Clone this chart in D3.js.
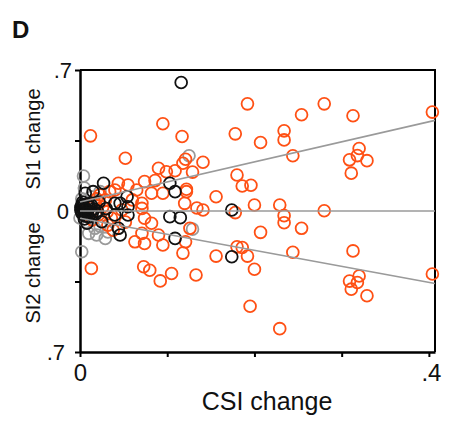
<!DOCTYPE html>
<html>
<head>
<meta charset="utf-8">
<script src="https://cdn.jsdelivr.net/npm/d3@7"></script>
<style>
  html, body { margin: 0; padding: 0; background: #fff; }
  svg { display: block; font-family: "Liberation Sans", Arial, sans-serif; }
</style>
</head>
<body>
<svg id="chart" width="449" height="424"></svg>
<script>
// CSI change (x) against SI1 change (positive y) / SI2 change (negative y)
const orangePoints = [
  [0.012, 0.373], [0.095, 0.433], [0.117, 0.370], [0.192, 0.532], [0.280, 0.532],
  [0.254, 0.478], [0.313, 0.473], [0.404, 0.491], [0.178, 0.383], [0.234, 0.398],
  [0.234, 0.353], [0.207, 0.340], [0.244, 0.274], [0.320, 0.310], [0.318, 0.275],
  [0.309, 0.254], [0.329, 0.250], [0.311, 0.188], [0.141, 0.242], [0.129, 0.193],
  [0.121, 0.257], [0.180, 0.179], [0.186, 0.124], [0.196, 0.128], [0.156, 0.071],
  [0.122, 0.108], [0.200, 0.030], [0.229, 0.030], [0.280, 0.001], [0.134, 0.015],
  [0.141, 0.005], [0.178, -0.008], [0.234, -0.023], [0.234, -0.058], [0.254, -0.086],
  [0.207, -0.106], [0.126, -0.086], [0.121, -0.153], [0.118, -0.209], [0.180, -0.178],
  [0.186, -0.181], [0.192, -0.224], [0.156, -0.224], [0.244, -0.205], [0.313, -0.198],
  [0.200, -0.289], [0.133, -0.318], [0.320, -0.323], [0.309, -0.348], [0.318, -0.355],
  [0.311, -0.388], [0.329, -0.421], [0.404, -0.313], [0.195, -0.473], [0.229, -0.584],
  [0.052, 0.262], [0.090, 0.212], [0.099, 0.195], [0.109, 0.200], [0.118, 0.237],
  [0.074, 0.146], [0.086, 0.151], [0.044, 0.138], [0.034, 0.096], [0.082, 0.088],
  [0.095, 0.088], [0.071, 0.038], [0.029, 0.055], [0.017, 0.040], [0.071, 0.013],
  [0.074, -0.036], [0.082, -0.061], [0.071, -0.111], [0.090, -0.119], [0.063, -0.153],
  [0.074, -0.161], [0.095, -0.169], [0.013, -0.285], [0.073, -0.277], [0.080, -0.294],
  [0.092, -0.347], [0.105, -0.310], [0.032, -0.070], [0.031, -0.005], [0.023, 0.080],
  [0.040, 0.104], [0.048, 0.005], [0.021, -0.020], [0.038, -0.095], [0.052, -0.055],
  [0.060, 0.055], [0.009, 0.030], [0.014, -0.045], [0.055, 0.129], [0.065, 0.104],
  [0.120, 0.038], [0.122, 0.096], [0.026, 0.020], [0.036, -0.035], [0.019, 0.060]
];

const blackPoints = [
  [0.116, 0.638], [0.027, 0.138], [0.015, 0.096], [0.006, 0.088], [0.103, 0.138],
  [0.109, 0.096], [0.054, 0.071], [0.040, 0.038], [0.046, 0.038], [0.055, 0.021],
  [0.040, -0.020], [0.055, -0.020], [0.008, -0.061], [0.025, -0.053], [0.044, -0.086],
  [0.046, -0.119], [0.103, -0.028], [0.115, -0.033], [0.109, -0.136], [0.174, 0.005],
  [0.174, -0.227], [0.002, 0.030], [0.005, 0.015], [0.007, 0.000], [0.003, -0.015],
  [0.009, 0.005], [0.011, 0.020], [0.006, -0.025], [0.014, -0.010], [0.001, 0.005],
  [0.008, 0.035], [0.016, 0.010], [0.018, -0.015], [0.010, -0.030], [0.003, 0.045],
  [0.004, 0.002], [0.006, 0.010], [0.002, -0.008], [0.012, -0.004], [0.004, 0.024],
  [0.013, 0.028], [0.005, -0.040], [0.020, 0.000], [0.001, 0.018], [0.008, -0.012],
  [0.022, 0.045], [0.030, 0.012]
];

const grayPoints = [
  [0.004, 0.174], [0.125, 0.274], [0.002, -0.202], [0.010, -0.111], [0.019, -0.119],
  [0.029, -0.136], [0.017, -0.086], [0.023, 0.096], [0.129, -0.090], [0.002, 0.060],
  [0.007, -0.055], [0.013, 0.070], [0.000, -0.035], [0.032, -0.104], [0.005, 0.114],
  [0.023, -0.075]
];

// fitted lines: [intercept, value at right edge]
const fitLines = [
  [0.045, 0.450],
  [0.000, 0.000],
  [-0.036, -0.360]
];

const xTickValues = [0, 0.1, 0.2, 0.3, 0.4];
const xTickLabels = ["0", "", "", "", ".4"];
const yTickValues = [-0.7, -0.35, 0, 0.35, 0.7];

const xMax = 0.407;
const svg = d3.select("#chart");
const x = d3.scaleLinear().domain([0, xMax]).range([80, 435]);
const y = d3.scaleLinear().domain([-0.7, 0.7]).range([352, 70]);

const orange = "#ff5014";
const black = "#111";
const gray = "#9a9a9a";

// frame (top and right edges)
svg.append("path")
  .attr("d", `M${x(0)},${y(0.7)}H${x(xMax)}V${y(-0.7)}`)
  .attr("fill", "none").attr("stroke", "#000").attr("stroke-width", 2);

// axes
const xAxis = svg.append("g")
  .attr("transform", `translate(0,${y(-0.7)})`)
  .call(d3.axisBottom(x).tickValues(xTickValues).tickSize(5).tickSizeOuter(0)
    .tickFormat((d, i) => xTickLabels[i]));
xAxis.select(".domain").attr("stroke-width", 2.5);
xAxis.selectAll(".tick line").attr("stroke-width", 2);
xAxis.selectAll(".tick text").attr("font-size", 24).attr("fill", "#111")
  .attr("dy", 0).attr("y", 29)
  .attr("font-family", "'Liberation Sans', Arial, sans-serif");
xAxis.selectAll(".tick text").filter((d) => d === 0.4).attr("dx", 2);

const yAxis = svg.append("g")
  .attr("transform", `translate(${x(0)},0)`)
  .call(d3.axisLeft(y).tickValues(yTickValues).tickSize(5).tickSizeOuter(0)
    .tickFormat(() => ""));
yAxis.select(".domain").attr("stroke-width", 2.5);
yAxis.selectAll(".tick line").attr("stroke-width", 2);

// y tick labels (both ends are magnitudes)
const yLabels = [
  { v: 0.7, t: ".7", right: 72 },
  { v: 0, t: "0", right: 69 },
  { v: -0.7, t: ".7", right: 65 }
];
svg.selectAll("text.ylab").data(yLabels).join("text")
  .attr("class", "ylab")
  .attr("x", (d) => d.right)
  .attr("y", (d) => y(d.v) + 8)
  .attr("text-anchor", "end")
  .attr("font-size", 22).attr("fill", "#111")
  .text((d) => d.t);

// points
function drawPoints(data, color) {
  svg.append("g").selectAll("circle").data(data).join("circle")
    .attr("cx", (d) => x(d[0]))
    .attr("cy", (d) => y(d[1]))
    .attr("r", 5.9)
    .attr("fill", "none")
    .attr("stroke", color)
    .attr("stroke-width", 1.8);
}
drawPoints(grayPoints, gray);
drawPoints(orangePoints, orange);
drawPoints(blackPoints, black);

// fitted lines
svg.append("g").selectAll("line").data(fitLines).join("line")
  .attr("x1", x(0)).attr("y1", (d) => y(d[0]))
  .attr("x2", x(xMax)).attr("y2", (d) => y(d[1]))
  .attr("stroke", gray).attr("stroke-width", 1.6);

// titles
svg.append("text")
  .attr("x", 267).attr("y", 410)
  .attr("text-anchor", "middle").attr("font-size", 25).attr("fill", "#111")
  .text("CSI change");

svg.append("text")
  .attr("transform", `translate(40,139) rotate(-90)`)
  .attr("text-anchor", "middle").attr("font-size", 20).attr("fill", "#111")
  .text("SI1 change");

svg.append("text")
  .attr("transform", `translate(40,273) rotate(-90)`)
  .attr("text-anchor", "middle").attr("font-size", 20).attr("fill", "#111")
  .text("SI2 change");

svg.append("text")
  .attr("x", 12).attr("y", 38)
  .attr("font-size", 24).attr("font-weight", "bold").attr("fill", "#111")
  .text("D");
</script>
</body>
</html>
